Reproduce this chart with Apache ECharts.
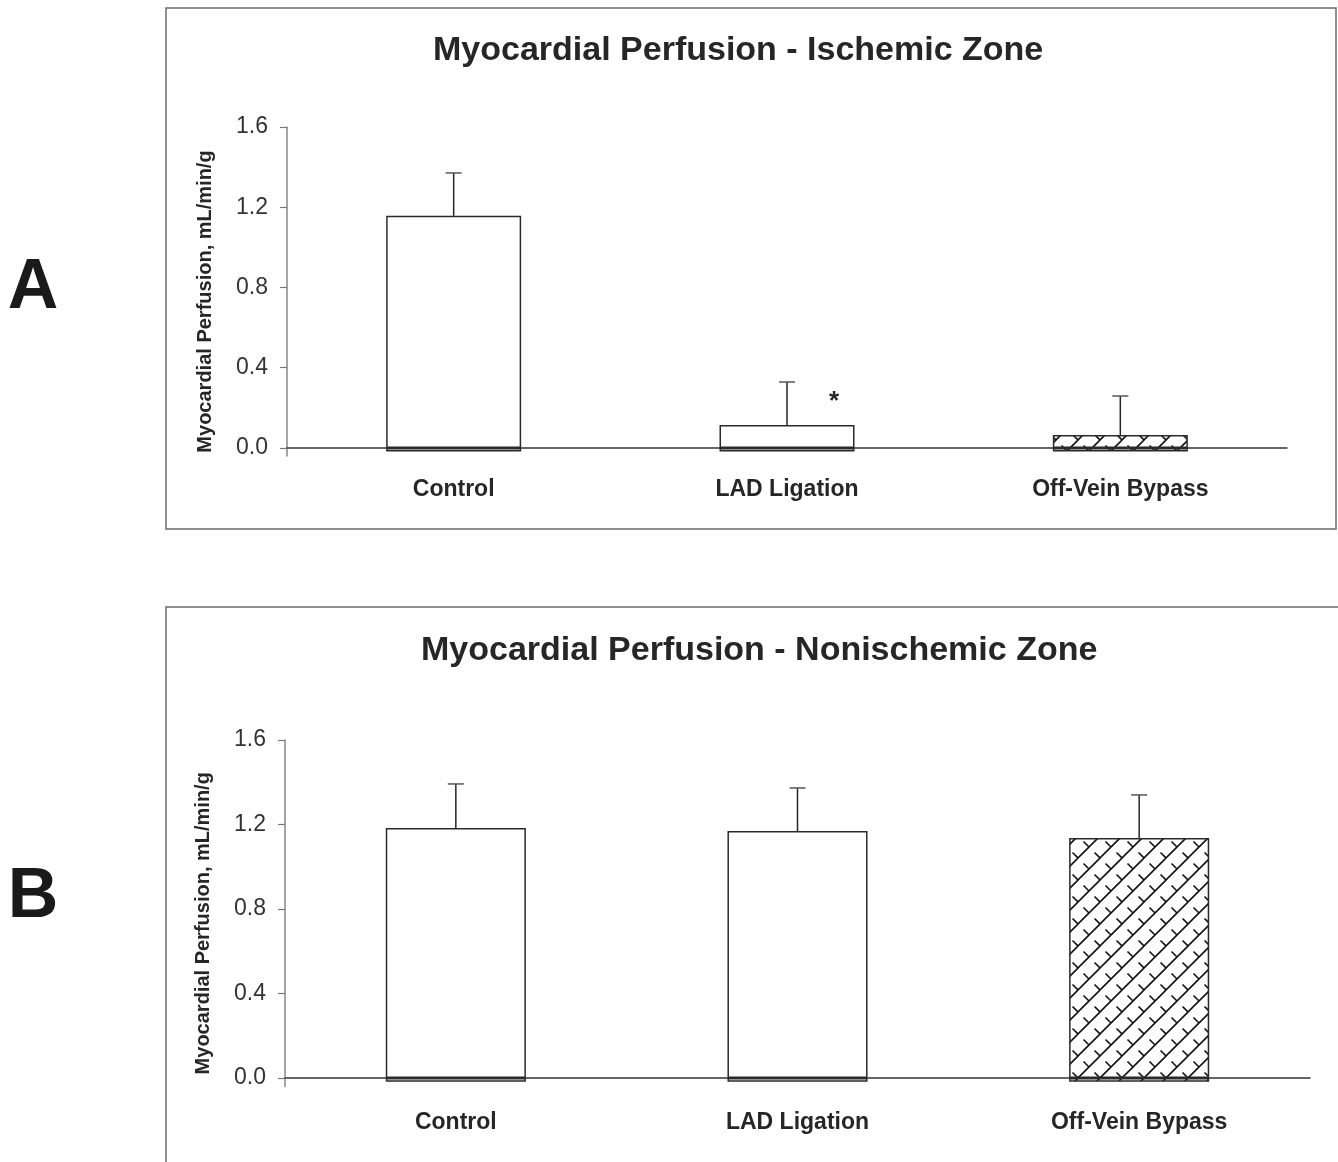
<!DOCTYPE html>
<html>
<head>
<meta charset="utf-8">
<script src="https://cdn.jsdelivr.net/npm/echarts@6/dist/echarts.min.js"></script>
<style>
  html, body { margin: 0; padding: 0; background: #fff; }
  #chart { width: 1338px; height: 1162px; }
</style>
</head>
<body>
<div id="chart"></div>
<script>
var categories = ['Control', 'LAD Ligation', 'Off-Vein Bypass'];
var yTicks = [0, 0.4, 0.8, 1.2, 1.6];
// panel A - ischemic zone
var ischemicMean = [1.157, 0.115, 0.065];
var ischemicErr = [0.214, 0.214, 0.194];
// panel B - nonischemic zone
var nonIschemicMean = [1.183, 1.169, 1.136];
var nonIschemicErr = [0.209, 0.204, 0.204];
// bars are drawn slightly below zero in the original
var barFloor = [-0.018, -0.018, -0.018];
var hatched = [false, false, true];

(function() {
  var ink = '#262626';
  var frame = '#6b6b6b';
  var font = 'Liberation Sans, Arial, sans-serif';

  // diagonal brick hatch used for the bypass bar
  var tile = document.createElement('canvas');
  tile.width = 22; tile.height = 22;
  var g = tile.getContext('2d');
  g.fillStyle = '#fff';
  g.fillRect(0, 0, 22, 22);
  g.strokeStyle = '#141414';
  g.lineWidth = 1.6;
  g.beginPath();
  g.moveTo(0, 22); g.lineTo(22, 0);
  g.moveTo(-11, 11); g.lineTo(11, -11);
  g.moveTo(11, 33); g.lineTo(33, 11);
  g.moveTo(5.5, 5.5); g.lineTo(11, 11);
  g.moveTo(16.5, 16.5); g.lineTo(22, 22);
  g.stroke();
  var hatch = { image: tile, repeat: 'repeat' };

  function barData(vals) {
    return vals.map(function(v, i) {
      return {
        value: v,
        itemStyle: { color: hatched[i] ? hatch : '#fff' }
      };
    });
  }

  function errData(mean, err) {
    return mean.map(function(m, i) { return [i, m, err[i]]; });
  }

  function renderErr(params, api) {
    var i = api.value(0), m = api.value(1), e = api.value(2);
    var base = api.coord([i, m]);
    var top = api.coord([i, m + e]);
    var style = { stroke: ink, lineWidth: 1.5 };
    return {
      type: 'group',
      children: [
        { type: 'line', shape: { x1: base[0], y1: base[1], x2: top[0], y2: top[1] }, style: style },
        { type: 'line', shape: { x1: top[0] - 8, y1: top[1], x2: top[0] + 8, y2: top[1] }, style: { stroke: '#555', lineWidth: 1.5 } }
      ]
    };
  }

  function xAxis(idx, margin) {
    return {
      type: 'category',
      gridIndex: idx,
      data: categories,
      axisLine: { onZero: true, lineStyle: { color: '#333', width: 1.5 } },
      axisTick: { length: 9, lineStyle: { color: '#333', width: 1.2 } },
      axisLabel: { color: ink, fontSize: 23, fontWeight: 'bold', fontFamily: font, margin: margin, interval: 0 }
    };
  }

  function yAxis(idx) {
    return {
      type: 'value',
      gridIndex: idx,
      min: -0.04,
      max: 1.6,
      name: 'Myocardial Perfusion, mL/min/g',
      nameLocation: 'middle',
      nameGap: 72,
      nameRotate: 90,
      nameTextStyle: { color: ink, fontSize: 20, fontWeight: 'bold', fontFamily: font, padding: [0, 20, 0, 0] },
      axisLine: { show: true, onZero: false, lineStyle: { color: '#888', width: 1.5 } },
      axisTick: { show: true, inside: false, length: 7, customValues: yTicks, lineStyle: { color: '#777', width: 1.2 } },
      axisLabel: {
        color: '#333', fontSize: 23, fontFamily: font, margin: 19,
        customValues: yTicks,
        formatter: function(v) { return v.toFixed(1); }
      },
      splitLine: { show: false }
    };
  }

  function bars(idx, mean, width) {
    var border = { borderColor: '#2a2a2a', borderWidth: 1.5 };
    return [
      {
        type: 'bar', xAxisIndex: idx, yAxisIndex: idx, stack: 's' + idx,
        barWidth: width, data: barData(barFloor), itemStyle: border, silent: true
      },
      {
        type: 'bar', xAxisIndex: idx, yAxisIndex: idx, stack: 's' + idx,
        barWidth: width, data: barData(mean), itemStyle: border
      }
    ];
  }

  var chart = echarts.init(document.getElementById('chart'));
  var series = [].concat(
    bars(0, ischemicMean, '40.5%'),
    bars(1, nonIschemicMean, '41%'),
    [
      {
        type: 'custom', xAxisIndex: 0, yAxisIndex: 0, renderItem: renderErr,
        data: errData(ischemicMean, ischemicErr), z: 5,
        markPoint: {
          symbol: 'circle', symbolSize: 0,
          data: [{ coord: [1, 0.25], value: '*' }],
          label: { show: true, formatter: '*', color: ink, fontSize: 26, fontWeight: 'bold', fontFamily: font, offset: [47, 4] }
        }
      },
      {
        type: 'custom', xAxisIndex: 1, yAxisIndex: 1, renderItem: renderErr,
        data: errData(nonIschemicMean, nonIschemicErr), z: 5
      }
    ]
  );

  chart.setOption({
    animation: false,
    backgroundColor: '#fff',
    title: [
      {
        text: 'Myocardial Perfusion - Ischemic Zone', left: 433, top: 34, padding: 0,
        textStyle: { color: ink, fontSize: 34, fontWeight: 'bold', fontFamily: font }
      },
      {
        text: 'Myocardial Perfusion - Nonischemic Zone', left: 421, top: 634, padding: 0,
        textStyle: { color: ink, fontSize: 34, fontWeight: 'bold', fontFamily: font }
      }
    ],
    grid: [
      { left: 287, right: 51, top: 127, height: 329 },
      { left: 285, right: 28, top: 740, height: 346.5 }
    ],
    xAxis: [xAxis(0, 22), xAxis(1, 25)],
    yAxis: [yAxis(0), yAxis(1)],
    series: series,
    graphic: [
      { type: 'rect', shape: { x: 166, y: 8, width: 1170, height: 521 }, style: { fill: 'none', stroke: frame, lineWidth: 1.5 }, z: -1 },
      { type: 'rect', shape: { x: 166, y: 607, width: 1190, height: 600 }, style: { fill: 'none', stroke: frame, lineWidth: 1.5 }, z: -1 },
      { type: 'text', style: { x: 33, y: 289, text: 'A', font: 'bold 70px ' + font, fill: '#1a1a1a', textAlign: 'center', textVerticalAlign: 'middle' } },
      { type: 'text', style: { x: 33, y: 898, text: 'B', font: 'bold 70px ' + font, fill: '#1a1a1a', textAlign: 'center', textVerticalAlign: 'middle' } }
    ]
  });
  window.addEventListener('resize', function() { chart.resize(); });
})();
</script>
</body>
</html>
